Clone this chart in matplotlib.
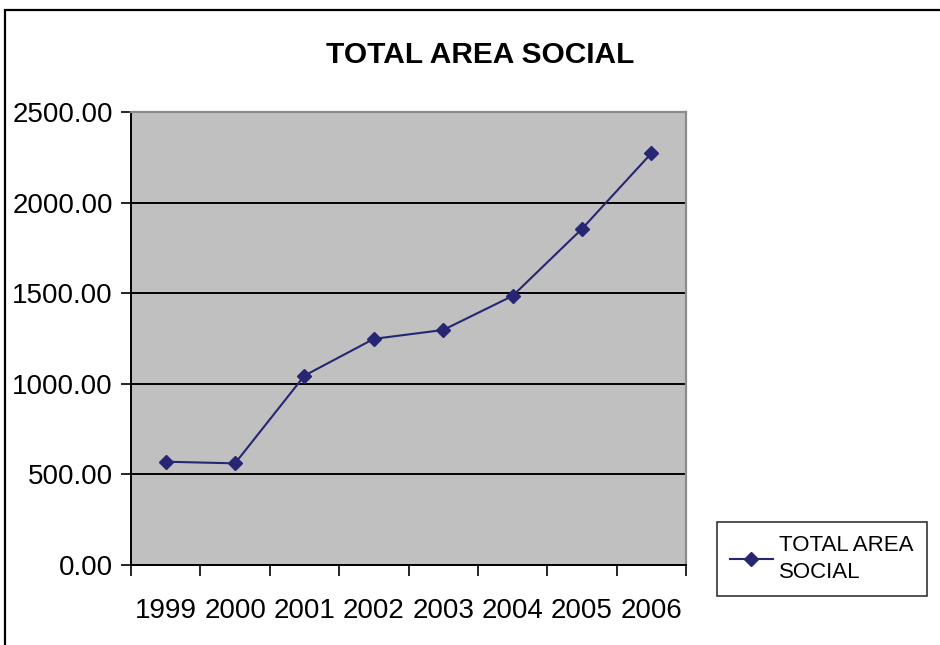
import matplotlib.pyplot as plt
from matplotlib.patches import Rectangle
from matplotlib.lines import Line2D
import numpy as np

# data
years = ['1999', '2000', '2001', '2002', '2003', '2004', '2005', '2006']
total_area_social = [570, 561, 1045, 1248, 1297, 1485, 1855, 2272]
y_ticks = [0, 500, 1000, 1500, 2000, 2500]

plt.rcParams['font.family'] = ['Liberation Sans', 'DejaVu Sans']

navy = '#262673'

fig = plt.figure(figsize=(9.4, 6.45), dpi=100)

# outer chart frame (runs off the right/bottom edge like the reference)
fig.patches.append(Rectangle((5 / 940, -0.1), 1.2, 1 - 10 / 645 + 0.1,
                             transform=fig.transFigure, fill=False,
                             edgecolor='black', linewidth=1.6))

ax = fig.add_axes([131 / 940, 80 / 645, 555 / 940, 453 / 645])
ax.set_facecolor('#c0c0c0')

x = np.arange(len(years))
ax.plot(x, total_area_social, color=navy, linewidth=1.5, marker='D',
        markersize=7.5, markerfacecolor=navy, markeredgecolor=navy, zorder=3)

ax.set_xlim(-0.5, len(years) - 0.5)
ax.set_ylim(0, 2500)

# category ticks between years, labels centred on the points
ax.set_xticks(np.arange(-0.5, len(years)), minor=False)
ax.set_xticklabels([])
ax.set_xticks(x, minor=True)
ax.set_xticklabels(years, minor=True, fontsize=20)
ax.tick_params(axis='x', which='major', direction='out', length=8, width=1.2)
ax.tick_params(axis='x', which='minor', length=0, pad=24)

ax.set_yticks(y_ticks)
ax.set_yticklabels(['%.2f' % v for v in y_ticks], fontsize=20)
ax.tick_params(axis='y', direction='out', length=7, width=1.2, pad=6)

ax.yaxis.grid(True, color='black', linewidth=1.4)
ax.set_axisbelow(True)

for side in ['left', 'bottom']:
    ax.spines[side].set_color('black')
    ax.spines[side].set_linewidth(1.4)
for side in ['top', 'right']:
    ax.spines[side].set_color('#8c8c8c')
    ax.spines[side].set_linewidth(1.6)

fig.text(480 / 940, 1 - 55 / 645, 'TOTAL AREA SOCIAL', ha='center', va='center',
         fontsize=21.5, fontweight='bold')

# legend box
handle = Line2D([], [], color=navy, linewidth=1.5, marker='D', markersize=7.5,
                markerfacecolor=navy, markeredgecolor=navy)
leg = fig.legend([handle], ['TOTAL AREA\nSOCIAL'], loc='center',
                 bbox_to_anchor=(822 / 940, 1 - 559 / 645), fontsize=16,
                 frameon=True, fancybox=False, edgecolor='black',
                 handlelength=1.9, handletextpad=0.3, borderpad=0.6)
leg.get_frame().set_linewidth(1.2)
leg.get_texts()[0].set_linespacing(1.35)

fig.savefig('out.png', dpi=100)
